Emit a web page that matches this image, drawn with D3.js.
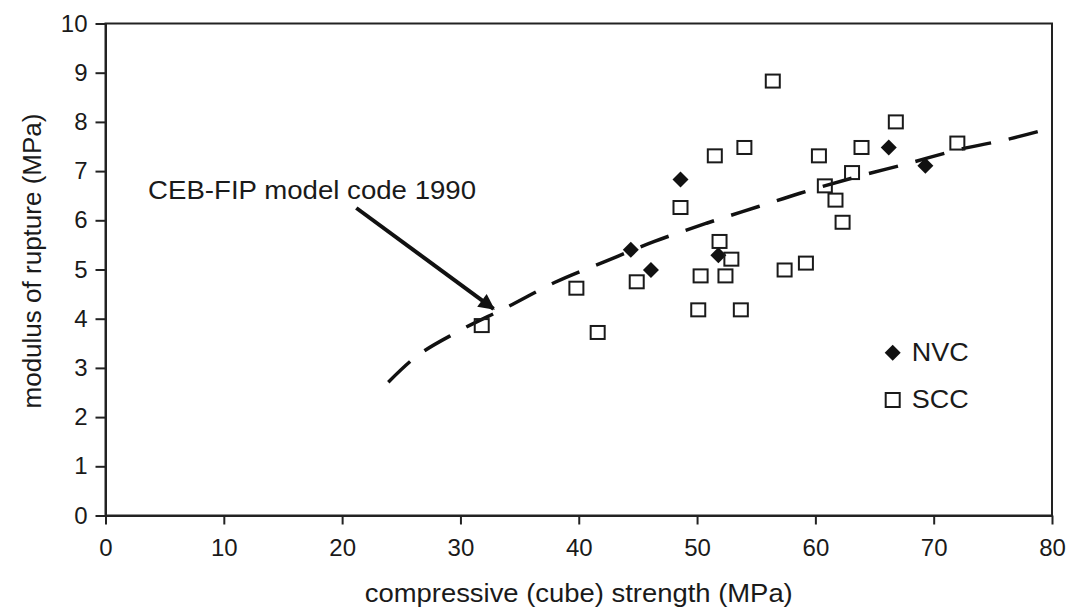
<!DOCTYPE html>
<html>
<head>
<meta charset="utf-8">
<script src="https://cdn.jsdelivr.net/npm/d3@7"></script>
<style>
    body { margin: 0; background: #fff; }
    #chart-area { width: 1071px; height: 608px; }
    text { font-family: "Liberation Sans", Arial, sans-serif; fill: #1a1a1a; }
</style>
</head>
<body>
<div id="chart-area"></div>
<script>

// NVC (normal vibrated concrete) points
const nvcStrength = [44.4, 46.1, 48.6, 51.8, 66.2, 69.3];
const nvcRupture = [5.40, 4.99, 6.83, 5.29, 7.48, 7.11];

// SCC (self-compacting concrete) points
const sccStrength = [31.8, 39.8, 41.6, 44.9, 48.6, 50.1, 50.3, 51.5, 51.9, 52.4, 52.9, 53.7,
    54.0, 56.4, 57.4, 59.2, 60.3, 60.8, 61.7, 62.3, 63.1, 63.9, 66.8, 72.0];
const sccRupture = [3.86, 4.62, 3.72, 4.75, 6.26, 4.18, 4.87, 7.31, 5.57, 4.87, 5.21, 4.18,
    7.48, 8.83, 4.99, 5.13, 7.31, 6.70, 6.41, 5.96, 6.97, 7.48, 8.00, 7.57];

// CEB-FIP model code 1990 curve
const cebStrength = [23.9, 25.9, 29.8, 33.9, 38.0, 42.2, 46.4, 50.8, 55.2, 58.7, 63.6, 67.9, 72.0, 76.5, 80.0];
const cebRupture = [2.71, 3.16, 3.74, 4.23, 4.74, 5.16, 5.57, 5.94, 6.28, 6.55, 6.89, 7.16, 7.43, 7.66, 7.88];

const xTicks = [0, 10, 20, 30, 40, 50, 60, 70, 80];
const yTicks = [0, 1, 2, 3, 4, 5, 6, 7, 8, 9, 10];

const annotationText = "CEB-FIP model code 1990";
const arrowFrom = [21.2, 6.25];
const arrowTo = [32.8, 4.20];
const legendLabels = ["NVC", "SCC"];

class RuptureChart {

    constructor(parentElement) {
        this.parentElement = parentElement;
    }

    initVis() {
        let vis = this;

        vis.margin = {top: 23.5, right: 19, bottom: 92.5, left: 105.5};
        vis.width = 1071 - vis.margin.left - vis.margin.right;
        vis.height = 608 - vis.margin.top - vis.margin.bottom;

        vis.svg = d3.select("#" + vis.parentElement).append("svg")
            .attr("width", 1071)
            .attr("height", 608)
            .append("g")
            .attr("transform", "translate(" + vis.margin.left + "," + vis.margin.top + ")");

        vis.x = d3.scaleLinear().domain([0, 80]).range([0, vis.width]);
        vis.y = d3.scaleLinear().domain([0, 10]).range([vis.height, 0]);

        vis.xAxis = d3.axisBottom(vis.x).tickValues(xTicks).tickSize(9).tickPadding(14).tickSizeOuter(0);
        vis.yAxis = d3.axisLeft(vis.y).tickValues(yTicks).tickSize(10).tickPadding(8).tickSizeOuter(0);

        vis.svg.append("defs").append("marker")
            .attr("id", "arrowhead")
            .attr("viewBox", "0 0 10 10")
            .attr("refX", 9)
            .attr("refY", 5)
            .attr("markerUnits", "userSpaceOnUse")
            .attr("markerWidth", 22)
            .attr("markerHeight", 16)
            .attr("orient", "auto")
            .append("path")
            .attr("d", "M0,0 L10,5 L0,10 Z")
            .attr("fill", "#111");

        vis.updateVis();
    }

    updateVis() {
        let vis = this;

        // frame
        vis.svg.append("rect")
            .attr("width", vis.width)
            .attr("height", vis.height)
            .attr("fill", "none")
            .attr("stroke", "#222")
            .attr("stroke-width", 2);

        let gx = vis.svg.append("g")
            .attr("class", "x-axis axis")
            .attr("transform", "translate(0," + vis.height + ")")
            .call(vis.xAxis);

        let gy = vis.svg.append("g")
            .attr("class", "y-axis axis")
            .call(vis.yAxis);

        [gx, gy].forEach(g => {
            g.select(".domain").attr("stroke", "#222").attr("stroke-width", 2);
            g.selectAll(".tick line").attr("stroke", "#222").attr("stroke-width", 2);
            g.selectAll(".tick text")
                .attr("fill", "#1a1a1a")
                .style("font-size", "24px")
                .style("font-family", "'Liberation Sans', Arial, sans-serif");
        });

        // curve
        let cebData = cebStrength.map((d, i) => ({x: d, y: cebRupture[i]}));
        vis.svg.append("path")
            .datum(cebData)
            .attr("fill", "none")
            .attr("stroke", "#111")
            .attr("stroke-width", 3.5)
            .attr("stroke-dasharray", "30,18")
            .attr("d", d3.line().curve(d3.curveMonotoneX)
                .x(d => vis.x(d.x))
                .y(d => vis.y(d.y)));

        // NVC diamonds
        let diamond = d3.symbol().type(d3.symbolSquare).size(128);
        vis.svg.selectAll(".nvc")
            .data(nvcStrength)
            .enter().append("path")
            .attr("class", "nvc")
            .attr("d", diamond)
            .attr("transform", (d, i) => "translate(" + vis.x(d) + "," + vis.y(nvcRupture[i]) + ") rotate(45)")
            .attr("fill", "#111");

        // SCC squares
        vis.svg.selectAll(".scc")
            .data(sccStrength)
            .enter().append("rect")
            .attr("class", "scc")
            .attr("x", d => vis.x(d) - 7)
            .attr("y", (d, i) => vis.y(sccRupture[i]) - 6.5)
            .attr("width", 14)
            .attr("height", 13)
            .attr("fill", "none")
            .attr("stroke", "#1a1a1a")
            .attr("stroke-width", 2);

        // annotation
        vis.svg.append("text")
            .attr("x", vis.x(3.6))
            .attr("y", vis.y(6.43))
            .attr("textLength", 328)
            .attr("lengthAdjust", "spacingAndGlyphs")
            .style("font-size", "25px")
            .text(annotationText);

        vis.svg.append("line")
            .attr("x1", vis.x(arrowFrom[0]))
            .attr("y1", vis.y(arrowFrom[1]))
            .attr("x2", vis.x(arrowTo[0]))
            .attr("y2", vis.y(arrowTo[1]))
            .attr("stroke", "#111")
            .attr("stroke-width", 4)
            .attr("marker-end", "url(#arrowhead)");

        // legend
        let legend = vis.svg.append("g")
            .attr("transform", "translate(" + (892.7 - vis.margin.left) + "," + (352.7 - vis.margin.top) + ")");

        legend.append("path")
            .attr("d", diamond)
            .attr("transform", "rotate(45)")
            .attr("fill", "#111");

        legend.append("rect")
            .attr("x", -7)
            .attr("y", 47.3 - 7)
            .attr("width", 14)
            .attr("height", 14)
            .attr("fill", "none")
            .attr("stroke", "#1a1a1a")
            .attr("stroke-width", 2);

        legend.selectAll(".legend-label")
            .data(legendLabels)
            .enter().append("text")
            .attr("class", "legend-label")
            .attr("x", 19)
            .attr("y", (d, i) => 8 + i * 47.3)
            .attr("textLength", 57)
            .attr("lengthAdjust", "spacingAndGlyphs")
            .style("font-size", "26px")
            .text(d => d);

        // axis titles
        vis.svg.append("text")
            .attr("x", vis.width / 2)
            .attr("y", 602 - vis.margin.top)
            .attr("text-anchor", "middle")
            .attr("textLength", 428)
            .attr("lengthAdjust", "spacingAndGlyphs")
            .style("font-size", "25px")
            .text("compressive (cube) strength (MPa)");

        vis.svg.append("text")
            .attr("transform", "translate(" + (41 - vis.margin.left) + "," + (261 - vis.margin.top) + ") rotate(-90)")
            .attr("text-anchor", "middle")
            .attr("textLength", 295)
            .attr("lengthAdjust", "spacingAndGlyphs")
            .style("font-size", "25px")
            .text("modulus of rupture (MPa)");
    }
}

let chart = new RuptureChart("chart-area");
chart.initVis();

</script>
</body>
</html>
